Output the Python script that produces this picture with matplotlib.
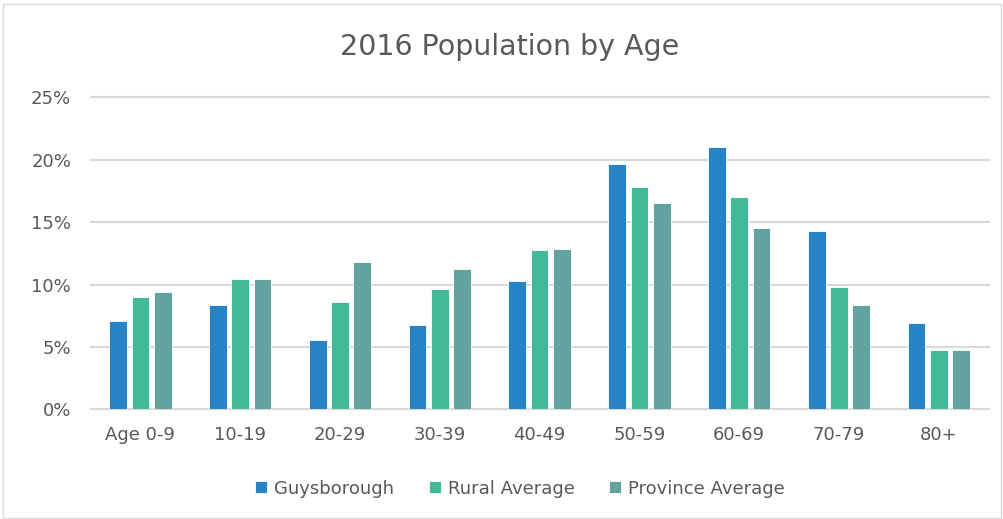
import matplotlib
matplotlib.use("Agg")
import matplotlib.pyplot as plt
import numpy as np
from matplotlib.patches import Rectangle

categories = ["Age 0-9", "10-19", "20-29", "30-39", "40-49", "50-59", "60-69", "70-79", "80+"]
guysborough = [7.05, 8.33, 5.53, 6.73, 10.25, 19.67, 21.04, 14.31, 6.91]
rural_avg = [8.97, 10.46, 8.60, 9.61, 12.79, 17.81, 16.98, 9.80, 4.78]
province_avg = [9.40, 10.41, 11.83, 11.21, 12.87, 16.52, 14.55, 8.33, 4.73]
series_names = ["Guysborough", "Rural Average", "Province Average"]
colors = ["#2683C6", "#42BA97", "#62A39F"]
yticks = [0, 5, 10, 15, 20, 25]

plt.rcParams['font.family'] = ['DejaVu Sans']

fig = plt.figure(figsize=(10.04, 5.19), dpi=100)
fig.patches.append(Rectangle((3/1004, 0.002), 1 - 6/1004, 1 - 5/519, transform=fig.transFigure,
                             fill=False, edgecolor="#D9D9D9", linewidth=1.0))
ax = fig.add_axes([90.5/1004, 1 - 409.3/519, (988.7 - 90.5)/1004, (409.3 - 97.3)/519])

x = np.arange(len(categories))
step = 0.224
width = 0.178
for i, (vals, name, c) in enumerate(zip([guysborough, rural_avg, province_avg], series_names, colors)):
    ax.bar(x + (i - 1) * step, vals, width, color=c, label=name, edgecolor="white", linewidth=0.6, zorder=3)

ax.set_xlim(-0.5, len(categories) - 0.5)
ax.set_ylim(0, 25)
ax.set_yticks(yticks)
ax.set_yticklabels([f"{v}%" for v in yticks])
ax.set_xticks(x)
ax.set_xticklabels(categories)
ax.grid(axis="y", color="#D9D9D9", linewidth=1.5, zorder=0)
for gl in ax.get_ygridlines():
    gl.set_clip_on(False)
for s in ["top", "right", "left"]:
    ax.spines[s].set_visible(False)
ax.spines["bottom"].set_color("#D9D9D9")
ax.spines["bottom"].set_linewidth(1.5)
ax.tick_params(axis="both", length=0, labelsize=13, labelcolor="#595959")
ax.tick_params(axis="y", pad=14)
ax.tick_params(axis="x", pad=12)

fig.text(510/1004, 1 - 55/519, "2016 Population by Age", ha="center", va="baseline", fontsize=20.5, color="#595959")

leg = fig.legend(loc="center", bbox_to_anchor=(520/1004, 1 - 488.5/519), ncol=3, frameon=False,
                 fontsize=13, handlelength=0.66, handleheight=0.66, columnspacing=1.9, handletextpad=0.4)
for t in leg.get_texts():
    t.set_color("#595959")

fig.savefig("out.png", dpi=100)
